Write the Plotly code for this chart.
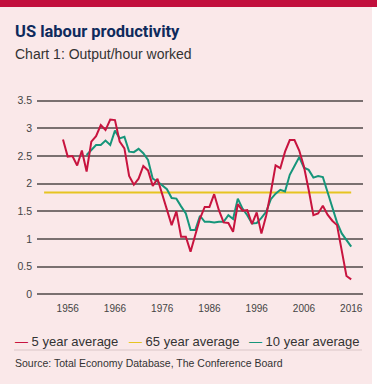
import plotly.graph_objects as go

# ---- data ----
years_5 = list(range(1955, 2017))
avg_5 = [2.80, 2.49, 2.50, 2.33, 2.60, 2.22, 2.76, 2.86, 3.06, 2.97,
         3.16, 3.15, 2.76, 2.64, 2.14, 1.98, 2.09, 2.32, 2.24, 1.96,
         2.09, 1.82, 1.53, 1.25, 1.50, 1.04, 1.04, 0.77, 1.07, 1.37,
         1.58, 1.58, 1.81, 1.52, 1.30, 1.29, 1.13, 1.63, 1.51, 1.52,
         1.27, 1.48, 1.10, 1.42, 1.85, 2.33, 2.28, 2.58, 2.79, 2.79,
         2.60, 2.31, 1.89, 1.43, 1.46, 1.60, 1.44, 1.33, 1.25, 0.80,
         0.33, 0.27]

years_10 = list(range(1960, 2017))
avg_10 = [2.52, 2.62, 2.70, 2.70, 2.78, 2.70, 2.96, 2.82, 2.85, 2.58,
          2.57, 2.63, 2.55, 2.43, 2.09, 2.04, 1.97, 1.90, 1.74, 1.73,
          1.59, 1.46, 1.16, 1.16, 1.42, 1.31, 1.31, 1.30, 1.31, 1.31,
          1.43, 1.36, 1.73, 1.55, 1.43, 1.28, 1.29, 1.38, 1.49, 1.72,
          1.82, 1.89, 1.86, 2.16, 2.32, 2.48, 2.29, 2.25, 2.11, 2.14,
          2.12, 1.85, 1.55, 1.30, 1.10, 0.98, 0.86]

years_65 = [1951, 2016]
avg_65 = [1.84, 1.84]

x_ticks = [1956, 1966, 1976, 1986, 1996, 2006, 2016]
y_ticks = [0, 0.5, 1, 1.5, 2, 2.5, 3, 3.5]
y_tick_labels = ["0", "0.5", "1", "1.5", "2", "2.5", "3", "3.5"]

RED = "#C8143F"
YELLOW = "#E6C421"
GREEN = "#16957A"
BG = "#FAE8E9"

# ---- layout geometry (pixels) ----
W, H = 377, 384
L, R, T, B = 37, 14, 98, 87
PW, PH = W - L - R, H - T - B


def px(x):
    return (x - L) / PW


def py(y):
    return (H - B - y) / PH


fig = go.Figure()
fig.add_trace(go.Scatter(x=years_65, y=avg_65, mode="lines",
                         line=dict(color=YELLOW, width=2), name="65 year average"))
fig.add_trace(go.Scatter(x=years_10, y=avg_10, mode="lines",
                         line=dict(color=GREEN, width=2), name="10 year average"))
fig.add_trace(go.Scatter(x=years_5, y=avg_5, mode="lines",
                         line=dict(color=RED, width=2), name="5 year average"))

shapes = [
    dict(type="rect", xref="paper", yref="paper", x0=px(-5), x1=px(W + 5),
         y0=py(7), y1=py(-5), fillcolor="#C20F3D", line=dict(width=0), layer="below"),
    dict(type="rect", xref="paper", yref="paper", x0=px(372), x1=px(W + 5),
         y0=py(H + 5), y1=py(7), fillcolor="white", line=dict(width=0), layer="below"),
    dict(type="line", xref="paper", yref="paper", x0=px(14), x1=px(362),
         y0=py(350), y1=py(350), line=dict(color="#D9C6C8", width=1)),
]

FONT = "Liberation Sans, Arial"
TXT = "#333333"

annotations = [
    dict(text="<b>US labour productivity</b>", x=px(13), y=py(31), xref="paper", yref="paper",
         xanchor="left", yanchor="middle", showarrow=False,
         font=dict(family="Roboto", size=16.5, color="#0E2A5C")),
    dict(text="Chart 1: Output/hour worked", x=px(13), y=py(54), xref="paper", yref="paper",
         xanchor="left", yanchor="middle", showarrow=False,
         font=dict(family=FONT, size=14, color=TXT)),
    dict(text=f"<span style='color:{RED}'>—</span> 5 year average", x=px(13), y=py(341),
         xref="paper", yref="paper", xanchor="left", yanchor="middle", showarrow=False,
         font=dict(family=FONT, size=13, color=TXT)),
    dict(text=f"<span style='color:{YELLOW}'>—</span> 65 year average", x=px(127), y=py(341),
         xref="paper", yref="paper", xanchor="left", yanchor="middle", showarrow=False,
         font=dict(family=FONT, size=13, color=TXT)),
    dict(text=f"<span style='color:{GREEN}'>—</span> 10 year average", x=px(247), y=py(341),
         xref="paper", yref="paper", xanchor="left", yanchor="middle", showarrow=False,
         font=dict(family=FONT, size=13, color=TXT)),
    dict(text="Source: Total Economy Database, The Conference Board", x=px(13), y=py(363),
         xref="paper", yref="paper", xanchor="left", yanchor="middle", showarrow=False,
         font=dict(family=FONT, size=10.5, color=TXT)),
]

fig.update_layout(
    width=W, height=H,
    margin=dict(l=L, r=R, t=T, b=B, pad=0),
    paper_bgcolor=BG, plot_bgcolor=BG,
    showlegend=False,
    shapes=shapes,
    annotations=annotations,
    xaxis=dict(range=[1949.5, 2018.5], tickvals=x_ticks, showgrid=False, zeroline=False,
               showline=False, ticks="", ticklabelstandoff=4,
               tickfont=dict(family=FONT, size=10, color="#444444"),
               fixedrange=True),
    yaxis=dict(range=[-0.05, 3.55], tickvals=y_ticks, ticktext=y_tick_labels,
               showgrid=True, gridcolor="#7A7070", gridwidth=1.5, zeroline=False,
               showline=False, ticks="", ticklabelstandoff=4,
               tickfont=dict(family=FONT, size=10.5, color="#444444"),
               fixedrange=True),
)

fig.write_html(
    "out.html",
    config={"displayModeBar": False},
    post_script="document.body.style.margin='0';document.body.style.overflow='hidden';",
)
